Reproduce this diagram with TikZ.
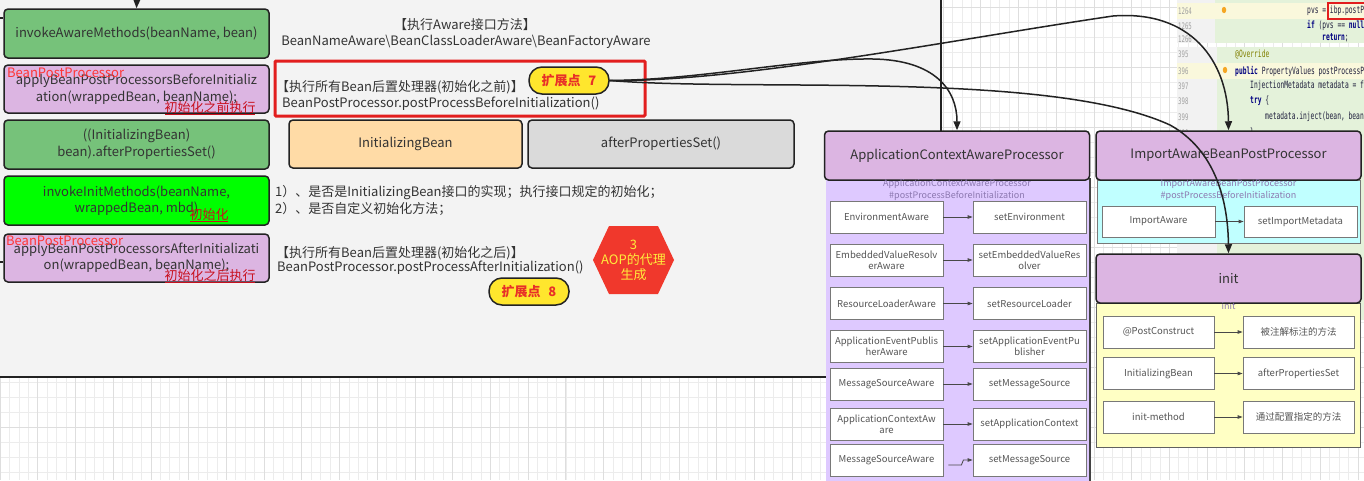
\documentclass[tikz,border=0pt]{standalone}
\usepackage{fontspec}
\setmainfont{Noto Sans CJK SC}
\newfontfamily\codefont[FakeStretch=0.63]{DejaVu Sans Mono}
\usetikzlibrary{arrows.meta,calc}

\definecolor{linec}{RGB}{34,34,34}
\definecolor{txt}{RGB}{51,51,51}
\definecolor{gbox}{RGB}{118,194,122}
\definecolor{pbox}{RGB}{220,181,226}
\definecolor{brightg}{RGB}{0,255,0}
\definecolor{obox}{RGB}{255,219,166}
\definecolor{graybox}{RGB}{218,218,218}
\definecolor{panelbg}{RGB}{243,243,243}
\definecolor{gridminor}{RGB}{236,236,236}
\definecolor{gridmajor}{RGB}{222,222,222}
\definecolor{lblred}{RGB}{255,53,53}
\definecolor{darkred}{RGB}{200,16,30}
\definecolor{redbox}{RGB}{226,30,30}
\definecolor{pillyellow}{RGB}{255,230,45}
\definecolor{pilltext}{RGB}{232,48,40}
\definecolor{hexred}{RGB}{240,56,44}
\definecolor{hextext}{RGB}{255,236,60}
\definecolor{lav}{RGB}{222,201,255}
\definecolor{cyanbg}{RGB}{192,255,255}
\definecolor{yelbg}{RGB}{255,255,196}
\definecolor{ttl}{RGB}{140,120,176}
\definecolor{rowtxt}{RGB}{85,85,85}
\definecolor{rowline}{RGB}{120,120,120}
\definecolor{codegreen}{RGB}{228,242,218}
\definecolor{gutter}{RGB}{242,242,242}
\definecolor{hilite}{RGB}{250,248,220}
\definecolor{lnum}{RGB}{160,160,160}
\definecolor{navy}{RGB}{0,0,128}
\definecolor{olive}{RGB}{128,128,0}
\definecolor{codetxt}{RGB}{30,30,60}
\definecolor{bulb}{RGB}{245,166,35}

\tikzset{
  f13/.style={font=\fontsize{13}{17}\selectfont},
  mainbox/.style={draw=linec, line width=1.5pt, rounded corners=4pt, align=center, inner sep=0pt, text=txt, f13},
  plain/.style={inner sep=0pt, text=txt, f13},
  redlbl/.style={inner sep=0pt, text=lblred, f13},
  ullbl/.style={inner sep=0pt, text=darkred, f13},
  ulline/.style={draw=darkred, line width=1pt},
  pill/.style={draw=linec, line width=1.5pt, fill=pillyellow, rounded corners=13pt, minimum width=80pt, minimum height=27pt, inner sep=0pt, text=pilltext, font=\fontsize{13}{15}\selectfont\bfseries},
  header/.style={mainbox, fill=pbox, minimum width=265pt, minimum height=49pt},
  rowbox/.style={draw=rowline, line width=0.8pt, fill=white, minimum width=113pt, minimum height=32pt, align=center, inner sep=0pt, text=rowtxt, font=\fontsize{9.5}{11}\selectfont},
  rowarr/.style={draw=rowline!60!black, line width=0.8pt, -{Triangle[length=5pt,width=3.5pt]}},
  ptitle/.style={inner sep=0pt, text=ttl, font=\fontsize{9}{11}\selectfont},
  conn/.style={draw=linec, line width=1.5pt, -{Triangle[length=9pt,width=7pt]}},
  lnumst/.style={inner sep=0pt, anchor=west, text=lnum, font=\codefont\fontsize{9}{10}\selectfont},
  codest/.style={inner sep=0pt, anchor=west, text=codetxt, font=\codefont\fontsize{10}{11}\selectfont},
}

\begin{document}
\begin{tikzpicture}[x=1pt,y=-1pt]
\useasboundingbox (0,0) rectangle (1364,480);
% background grid
\fill[white] (0,0) rectangle (1364,480);
\foreach \i in {0,...,145} { \pgfmathsetmacro\xx{\i*9.43} \draw[gridminor, line width=0.6pt] (\xx,0) -- (\xx,480); }
\foreach \i in {0,...,32} { \pgfmathsetmacro\yy{7.3+\i*15} \draw[gridminor, line width=0.6pt] (0,\yy) -- (1364,\yy); }
\foreach \i in {0,...,37} { \pgfmathsetmacro\xx{\i*37.72} \draw[gridmajor, line width=0.7pt] (\xx,0) -- (\xx,480); }
\foreach \i in {0,...,8} { \pgfmathsetmacro\yy{7.3+\i*60} \draw[gridmajor, line width=0.7pt] (0,\yy) -- (1364,\yy); }

% gray container
\fill[panelbg] (-2,-2) rectangle (941,377);
\draw[linec, line width=1.5pt] (941,-2) -- (941,377) -- (-2,377);

% code screenshot (top right)
\begin{scope}
\clip (1177,0) rectangle (1364,43);
\fill[gutter] (1177,0) rectangle (1215,43);
\fill[codegreen] (1215,0) rectangle (1364,43);
\fill[hilite] (1177,3) rectangle (1364,19);
\node[lnumst] (l1264) at (1178,11) {1264};
\node[lnumst] (l1265) at (1178,26) {1265};
\node[lnumst] (l1266) at (1178,39) {1266};
\fill[bulb] (1224,10) ellipse (2.2 and 3.2);
\node[codest] (c1) at (1307,11) {pvs = ibp.postProcessPropertyValues(};
\node[codest] (c2) at (1307,25) {{\bfseries\color{navy}if} (pvs == {\bfseries\color{navy}null}) \{};
\node[codest] (c3) at (1322,38) {{\bfseries\color{navy}return};};
\end{scope}
\draw[redbox, line width=1.2pt] (1328,3) rectangle (1366,19);
\begin{scope}
\clip (1177,47) rectangle (1364,320);
\fill[gutter] (1177,47) rectangle (1217,320);
\fill[codegreen] (1217,47) rectangle (1364,320);
\fill[hilite] (1177,63) rectangle (1364,79);
\node[lnumst] (l395) at (1178,54) {395};
\node[lnumst] (l396) at (1178,71) {396};
\node[lnumst] (l397) at (1178,86) {397};
\node[lnumst] (l398) at (1178,101) {398};
\node[lnumst] (l399) at (1178,117) {399};
\node[lnumst] (l400) at (1178,133) {400};
\fill[bulb] (1225,70) ellipse (2.2 and 3.2);
\node[codest, text=olive] (d1) at (1235,54) {@Override};
\node[codest] (d2) at (1235,71) {{\bfseries\color{navy}public} PropertyValues postProcessPropertyValues(};
\node[codest] (d3) at (1250,86) {InjectionMetadata metadata = findAutowiringMetadata(};
\node[codest] (d4) at (1250,101) {{\bfseries\color{navy}try} \{};
\node[codest] (d5) at (1265,117) {metadata.inject(bean, beanName, pvs);};
\node[codest] (d6) at (1250,133) {\}};
\end{scope}

% left column
\node[mainbox, fill=gbox, minimum width=265pt, minimum height=49pt] (b1) at (136.5,33.5) {invokeAwareMethods(beanName, bean)};
\node[mainbox, fill=pbox, minimum width=265pt, minimum height=48pt] (b2) at (136.5,89) {applyBeanPostProcessorsBeforeInitializ\\ation(wrappedBean, beanName);};
\node[mainbox, fill=gbox, minimum width=265pt, minimum height=49pt] (b3) at (136.5,144.5) {((InitializingBean)\\bean).afterPropertiesSet()};
\node[mainbox, fill=brightg, minimum width=265pt, minimum height=49pt, font=\fontsize{13}{16}\selectfont] (b4) at (136.5,200.5) {invokeInitMethods(beanName,\\wrappedBean, mbd)};
\node[mainbox, fill=pbox, minimum width=265pt, minimum height=48pt, font=\fontsize{13}{16}\selectfont] (b5) at (136.5,258) {applyBeanPostProcessorsAfterInitializati\\on(wrappedBean, beanName);};

\node[redlbl, anchor=west] (r1) at (7,73) {BeanPostProcessor};
\node[redlbl, anchor=west] (r2) at (6,241) {BeanPostProcessor};
\node[ullbl] (u1) at (210,108) {初始化之前执行};
\draw[ulline] (165,114) -- (255,114);
\node[ullbl] (u2) at (209,215) {初始化};
\draw[ulline] (190,221) -- (228,221);
\node[ullbl] (u3) at (210,276) {初始化之后执行};
\draw[ulline] (165,282) -- (255,282);

% stubs into the left column
\coordinate (topin) at (137,-4);
\draw[conn] (topin) -- (b1.north);
\coordinate (inl1) at (-2,18);
\draw[linec, line width=1.5pt] (inl1) -- (b1.west |- inl1);
\coordinate (inl5) at (-2,262);
\draw[linec, line width=1.5pt] (inl5) -- (b5.west |- inl5);

% middle texts
\node[plain] (t1) at (465,25) {【执行Aware接口方法】};
\node[plain] (t2) at (466,42) {BeanNameAware\textbackslash BeanClassLoaderAware\textbackslash BeanFactoryAware};
\draw[redbox, line width=3pt, rounded corners=1pt] (275,61) rectangle (645,116);
\node[plain, anchor=west] (t3) at (276,87) {【执行所有Bean后置处理器(初始化之前)】};
\node[plain, anchor=west] (t4) at (282,104) {BeanPostProcessor.postProcessBeforeInitialization()};
\node[mainbox, fill=obox, minimum width=233pt, minimum height=48pt] (ib) at (405.5,144) {InitializingBean};
\node[mainbox, fill=graybox, minimum width=266pt, minimum height=48pt] (aps) at (661,144) {afterPropertiesSet()};
\node[plain, anchor=west] (t5) at (275,193) {1）、是否是InitializingBean接口的实现；执行接口规定的初始化；};
\node[plain, anchor=west] (t6) at (275,209) {2）、是否自定义初始化方法；};
\node[plain, anchor=west] (t7) at (276,253) {【执行所有Bean后置处理器(初始化之后)】};
\node[plain, anchor=west] (t8) at (277,268) {BeanPostProcessor.postProcessAfterInitialization()};

\node[pill] (p7) at (569,80.5) {扩展点\hspace{0.6em}7};
\node[pill] (p8) at (529,291.5) {扩展点\hspace{0.6em}8};

\fill[hexred] (593,260) -- (609,226) -- (658,226) -- (674,260) -- (658,294) -- (609,294) -- cycle;
\node[align=center, inner sep=0pt, text=hextext, font=\fontsize{13}{15}\selectfont] (hex) at (633.5,260) {3\\AOP的代理\\生成};

% ApplicationContextAwareProcessor panel
\fill[lav] (826,180) rectangle (1090,482);
\draw[linec!85, line width=1.2pt] (1090,178) -- (1090,482);
\node[header] (app) at (957,155.5) {ApplicationContextAwareProcessor};
\node[ptitle] (appt1) at (957,184) {ApplicationContextAwareProcessor};
\node[ptitle] (appt2) at (957,196) {\#postProcessBeforeInitialization};
\node[rowbox] (a1l) at (886.5,217) {EnvironmentAware};
\node[rowbox] (a1r) at (1029.5,217) {setEnvironment};
\node[rowbox] (a2l) at (886.5,260) {EmbeddedValueResolv\\erAware};
\node[rowbox] (a2r) at (1029.5,260) {setEmbeddedValueRes\\olver};
\node[rowbox] (a3l) at (886.5,303.5) {ResourceLoaderAware};
\node[rowbox] (a3r) at (1029.5,303.5) {setResourceLoader};
\node[rowbox] (a4l) at (886.5,346.5) {ApplicationEventPublis\\herAware};
\node[rowbox] (a4r) at (1029.5,346.5) {setApplicationEventPu\\blisher};
\node[rowbox] (a5l) at (886.5,384) {MessageSourceAware};
\node[rowbox] (a5r) at (1029.5,384) {setMessageSource};
\node[rowbox] (a6l) at (886.5,424) {ApplicationContextAw\\are};
\node[rowbox] (a6r) at (1029.5,424) {setApplicationContext};
\node[rowbox] (a7l) at (886.5,460) {MessageSourceAware};
\node[rowbox] (a7r) at (1029.5,460) {setMessageSource};
\foreach \k in {1,...,6} { \draw[rowarr] (a\k l.east) -- (a\k r.west); }
\draw[rowarr] ($(a7l.east)+(5,5)$) -- ++(13,0) -- ++(2,-5) -- (a7r.west);

% ImportAwareBeanPostProcessor panel
\draw[fill=cyanbg, draw=rowline, line width=0.8pt] (1097,180) rectangle (1360,243);
\node[header] (imp) at (1228.5,155.5) {ImportAwareBeanPostProcessor};
\node[ptitle] (impt1) at (1228.5,184) {ImportAwareBeanPostProcessor};
\node[ptitle] (impt2) at (1228.5,196) {\#postProcessBeforeInitialization};
\node[rowbox, minimum height=31pt] (i1l) at (1158.5,221.5) {ImportAware};
\node[rowbox, minimum height=31pt] (i1r) at (1300.5,221.5) {setImportMetadata};
\draw[rowarr] (i1l.east) -- (i1r.west);

% init panel
\draw[fill=yelbg, draw=rowline!80!black, line width=0.8pt] (1096,303) rectangle (1360,447);
\node[header] (init) at (1228.5,278.5) {init};
\node[ptitle] (initt) at (1228.5,306) {init};
\node[rowbox, minimum width=111pt] (n1l) at (1158.5,332) {@PostConstruct};
\node[rowbox, minimum width=111pt] (n1r) at (1298.5,332) {被注解标注的方法};
\node[rowbox, minimum width=111pt] (n2l) at (1158.5,373.5) {InitializingBean};
\node[rowbox, minimum width=111pt] (n2r) at (1298.5,373.5) {afterPropertiesSet};
\node[rowbox, minimum width=111pt] (n3l) at (1158.5,417) {init-method};
\node[rowbox, minimum width=111pt] (n3r) at (1298.5,417) {通过配置指定的方法};
\foreach \k in {1,2,3} { \draw[rowarr] (n\k l.east) -- (n\k r.west); }

% connectors from extension point 7
\draw[conn] (p7.east) .. controls (700,80) and (800,58) .. (873,59) .. controls (935,60) and (957,90) .. (app.north);
\draw[conn] (p7.east) .. controls (740,82) and (950,40) .. (1113,16) .. controls (1190,10) and (1228,60) .. (imp.north);
\draw[conn] (p7.east) .. controls (750,92) and (1050,70) .. (1170,125) .. controls (1215,150) and (1228,200) .. (init.north);
\end{tikzpicture}
\end{document}
